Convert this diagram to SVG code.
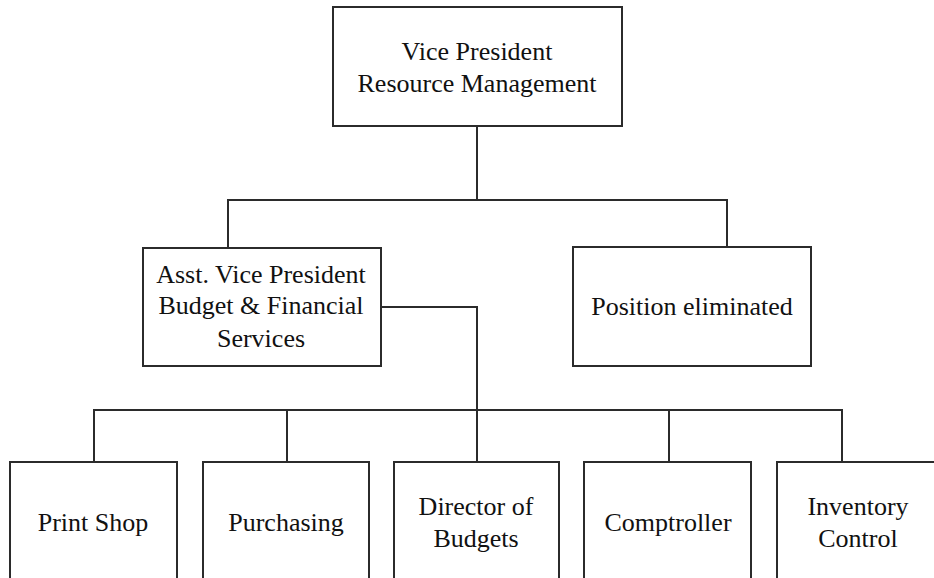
<svg xmlns="http://www.w3.org/2000/svg" width="934" height="578" viewBox="0 0 934 578">
  <style>
    .box { fill: #ffffff; stroke: #2b2b2b; stroke-width: 2; }
    .link { fill: none; stroke: #2b2b2b; stroke-width: 2; }
    .label { font-family: "Liberation Serif", "Times New Roman", serif; font-size: 26px; fill: #111111; text-anchor: middle; }
  </style>
  <rect width="934" height="578" fill="#ffffff"/>

  <!-- reporting lines -->
  <g id="connectors">
    <!-- VP down to second tier -->
    <path class="link" d="M477,126 V200"/>
    <path class="link" d="M228,248 V200 H727 V247"/>
    <!-- Asst VP to departments -->
    <path class="link" d="M381,307 H477 V462"/>
    <path class="link" d="M94,462 V410 H842 V462"/>
    <path class="link" d="M287,410 V462"/>
    <path class="link" d="M669,410 V462"/>
  </g>

  <g id="vp-resource-management">
    <rect class="box" x="333" y="7" width="289" height="119"/>
    <text class="label" x="477" y="60">Vice President</text>
    <text class="label" x="477" y="92">Resource Management</text>
  </g>

  <g id="asst-vp-budget">
    <rect class="box" x="143" y="248" width="238" height="118"/>
    <text class="label" x="261" y="283">Asst. Vice President</text>
    <text class="label" x="261" y="314">Budget &amp; Financial</text>
    <text class="label" x="261" y="347">Services</text>
  </g>

  <g id="position-eliminated">
    <rect class="box" x="573" y="247" width="238" height="119"/>
    <text class="label" x="692" y="315">Position eliminated</text>
  </g>

  <g id="print-shop">
    <rect class="box" x="10" y="462" width="167" height="130"/>
    <text class="label" x="93" y="531">Print Shop</text>
  </g>

  <g id="purchasing">
    <rect class="box" x="203" y="462" width="166" height="130"/>
    <text class="label" x="286" y="531">Purchasing</text>
  </g>

  <g id="director-of-budgets">
    <rect class="box" x="394" y="462" width="165" height="130"/>
    <text class="label" x="476" y="515">Director of</text>
    <text class="label" x="476" y="547">Budgets</text>
  </g>

  <g id="comptroller">
    <rect class="box" x="584" y="462" width="167" height="130"/>
    <text class="label" x="668" y="531">Comptroller</text>
  </g>

  <g id="inventory-control">
    <rect class="box" x="777" y="462" width="167" height="130"/>
    <text class="label" x="858" y="515">Inventory</text>
    <text class="label" x="858" y="547">Control</text>
  </g>
</svg>
